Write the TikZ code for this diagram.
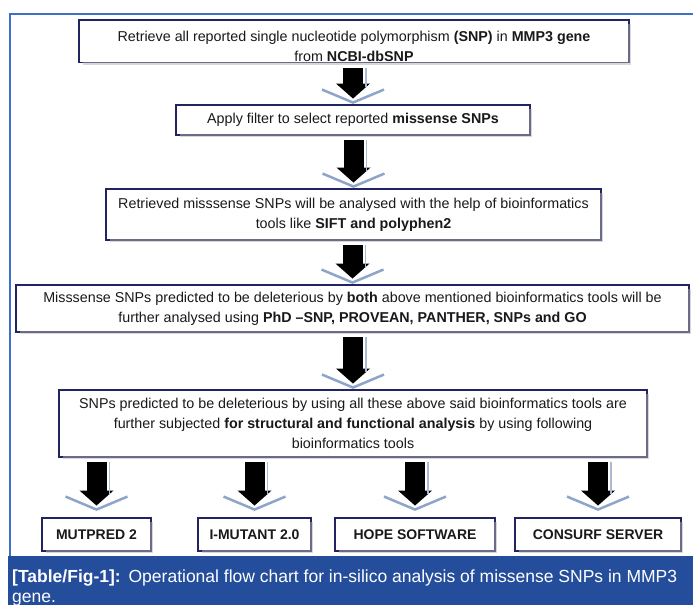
\documentclass[tikz,border=0pt]{standalone}
\usepackage{fontspec}
\setmainfont{Liberation Sans}
\usetikzlibrary{calc,shadows}
\definecolor{boxline}{RGB}{33,36,96}
\definecolor{ink}{RGB}{25,25,25}
\definecolor{chevron}{RGB}{140,165,200}
\definecolor{shaftline}{RGB}{170,186,212}
\definecolor{frameline}{RGB}{62,110,200}
\definecolor{banner}{RGB}{36,78,156}
\newcommand{\flowarrow}[3][3]{%
  \coordinate (#2-top) at ($(#3.north |- #2.south)+(0,6)$);
  \coordinate (#3-tip) at ($(#3.north)+(0,-#1)$);
  \fill[black] ($(#2-top)+(-10,0)$) rectangle ($(#3-tip)+(10,-17)$);
  \fill[black] ($(#3-tip)+(-17,-19)$) -- ($(#3-tip)+(17,-19)$) -- ($(#3-tip)+(0,-4)$) -- cycle;
  \draw[shaftline, line width=1.2pt] ($(#2-top)+(13,0)$) -- ($(#3-tip)+(13,-16)$);
  \draw[chevron, line width=2.5pt] ($(#3-tip)+(-31,-13)$) -- (#3-tip) -- ($(#3-tip)+(31,-13)$);
}

\begin{document}
\begin{tikzpicture}[x=1pt, y=-1pt,
    rect/.style={fill=white, inner sep=0pt, align=center, text=ink, font=\fontsize{14.3}{20}\selectfont,
      drop shadow={shadow xshift=3pt, shadow yshift=-3pt, fill=black!30},
      append after command={\pgfextra{\draw[boxline, line width=3.5pt] (\tikzlastnode.south west) rectangle (\tikzlastnode.north east);}}},
    tool/.style={rect, font=\fontsize{14}{20}\selectfont\bfseries, minimum height=31.5pt}]
    \useasboundingbox (0,0) rectangle (693,605);

    % Frame
    \draw[frameline, line width=1.2pt] (693,14) -- (10,14) -- (10,556);

    % Steps
    \node[rect, minimum width=548.5pt, text height=41pt, text depth=-0.5pt] (box-1) at (354,41)
      {Retrieve all reported single nucleotide polymorphism \textbf{(SNP)} in \textbf{MMP3 gene}\\ from \textbf{NCBI-dbSNP}};
    \node[rect, minimum width=352.5pt, minimum height=28.5pt] (box-2) at (353,120)
      {Apply filter to select reported \textbf{missense SNPs}};
    \node[rect, minimum width=493.5pt, minimum height=49.5pt] (box-3) at (353.5,214.5)
      {Retrieved misssense SNPs will be analysed with the help of bioinformatics\\ tools like \textbf{SIFT and polyphen2}};
    \node[rect, minimum width=671.5pt, minimum height=45.5pt] (box-4) at (352.5,308.5)
      {Misssense SNPs predicted to be deleterious by \textbf{both} above mentioned bioinformatics tools will be\\ further analysed using \textbf{PhD --SNP, PROVEAN, PANTHER, SNPs and GO}};
    \node[rect, minimum width=586.5pt, minimum height=65.5pt] (box-5) at (353,423.5)
      {SNPs predicted to be deleterious by using all these above said bioinformatics tools are\\ further subjected \textbf{for structural and functional analysis} by using following\\ bioinformatics tools};

    % Tools row
    \node[tool, minimum width=107.5pt] (tool-1) at (96.5,534.5) {MUTPRED 2};
    \node[tool, minimum width=111.5pt] (tool-2) at (254.5,534.5) {I-MUTANT 2.0};
    \node[tool, minimum width=158.5pt] (tool-3) at (415,534.5) {HOPE SOFTWARE};
    \node[tool, minimum width=164.5pt] (tool-4) at (598,534.5) {CONSURF SERVER};

    % Arrows
    \flowarrow{box-1}{box-2}
    \flowarrow{box-2}{box-3}
    \flowarrow{box-3}{box-4}
    \flowarrow{box-4}{box-5}
    \flowarrow[9]{box-5}{tool-1}
    \flowarrow[9]{box-5}{tool-2}
    \flowarrow[9]{box-5}{tool-3}
    \flowarrow[9]{box-5}{tool-4}

    % Caption
    \fill[banner] (8,556) rectangle (693,605);
    \node[anchor=base west, align=left, text=white, inner sep=0pt, font=\fontsize{17.5}{20.5}\selectfont] (caption) at (12,602.5)
      {\textbf{[Table/Fig-1]:}\hspace{0.45em}Operational flow chart for in-silico analysis of missense SNPs in MMP3\\ gene.};
\end{tikzpicture}
\end{document}
